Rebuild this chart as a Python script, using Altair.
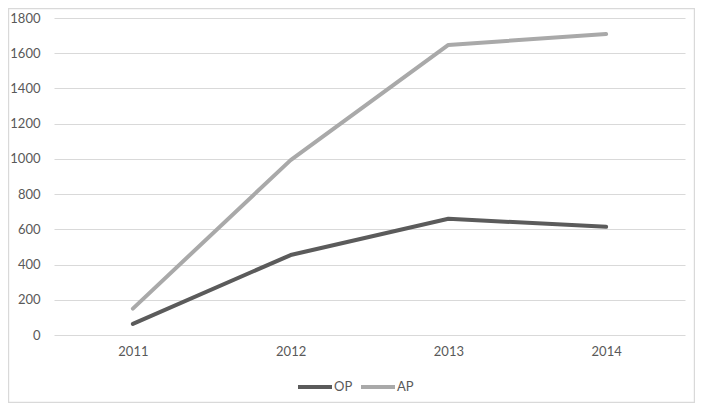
import altair as alt
import pandas as pd

years = ["2011", "2012", "2013", "2014"]
op_values = [63, 454, 660, 614]
ap_values = [150, 993, 1647, 1709]
series_names = ["OP", "AP"]
series_colors = ["#5b5b5b", "#a9a9a9"]
y_ticks = [0, 200, 400, 600, 800, 1000, 1200, 1400, 1600, 1800]

rows = []
for name, vals in zip(series_names, [op_values, ap_values]):
    for yr, v in zip(years, vals):
        rows.append({"year": yr, "series": name, "value": v})
df = pd.DataFrame(rows)

FONT = "Lato"
FS = 13
LABEL_COLOR = "#595959"
GRID = "#d9d9d9"

W, H = 631, 317
PAD_L, PAD_T, PAD_R, PAD_B = 46, 10, 10, 68

lines = alt.Chart(df).mark_line(strokeWidth=4, strokeCap="round", strokeJoin="round").encode(
    x=alt.X("year:O", sort=years,
            scale=alt.Scale(type="point", padding=0.5),
            axis=alt.Axis(title=None, labelAngle=0, ticks=False, domain=False, grid=False,
                          labelPadding=10, labelFontSize=FS, labelColor=LABEL_COLOR,
                          labelFont=FONT)),
    y=alt.Y("value:Q", scale=alt.Scale(domain=[0, 1800], nice=False),
            axis=alt.Axis(title=None, values=y_ticks, ticks=False, domain=False, format="d",
                          grid=True, gridColor=GRID, gridWidth=1,
                          labelPadding=14, labelFontSize=FS, labelColor=LABEL_COLOR,
                          labelFont=FONT)),
    color=alt.Color("series:N", sort=series_names,
                    scale=alt.Scale(domain=series_names, range=series_colors),
                    legend=alt.Legend(title=None, orient="none", direction="horizontal",
                                      legendX=242, legendY=350,
                                      symbolType="stroke", symbolSize=1156,
                                      symbolStrokeWidth=4, labelOffset=0,
                                      columnPadding=0,
                                      labelFontSize=FS, labelColor=LABEL_COLOR,
                                      labelFont=FONT)),
    detail="series:N",
)

border = alt.Chart(alt.Data(values=[{"a": 1}])).mark_rect(
    fill=None, stroke=GRID, strokeWidth=1.2
).encode(
    x=alt.value(-PAD_L + 0.6), x2=alt.value(W + PAD_R - 0.6),
    y=alt.value(-PAD_T + 0.6), y2=alt.value(H + PAD_B - 0.6),
)

chart = alt.layer(border, lines).properties(
    width=W, height=H,
    autosize=alt.AutoSizeParams(type="none"),
    padding={"left": PAD_L, "top": PAD_T, "right": PAD_R, "bottom": PAD_B},
    background="white",
).configure_view(stroke=None)

chart.save("out.html", embed_options={"renderer": "svg", "actions": False})
